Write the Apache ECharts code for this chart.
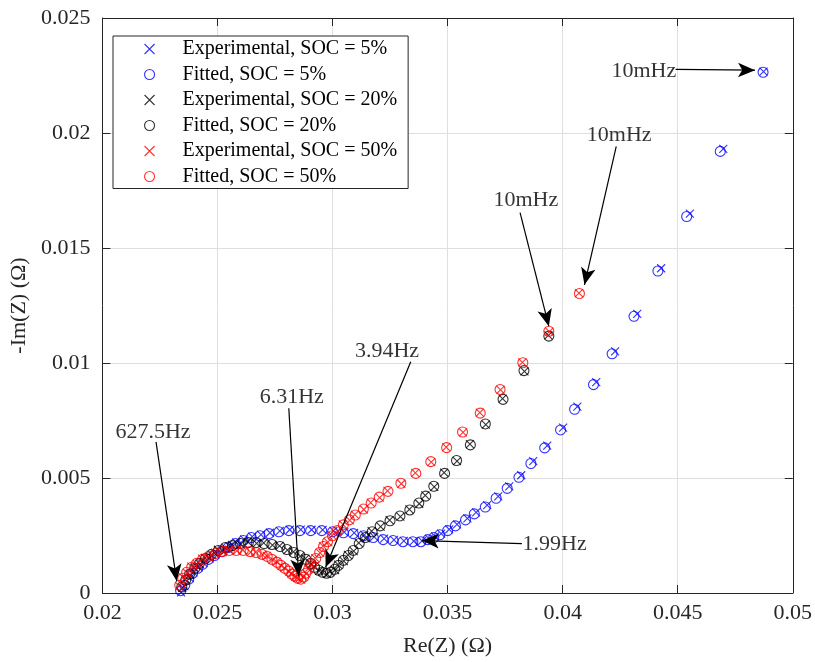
<!DOCTYPE html>
<html><head><meta charset="utf-8">
<script src="https://cdn.jsdelivr.net/npm/echarts@6/dist/echarts.min.js"></script>
<style>html,body{margin:0;padding:0;background:#fff}#chart{width:815px;height:662px}</style>
</head><body><div id="chart"></div>
<script>
// ---- axes ----
const xMin = 0.02, xMax = 0.05, xStep = 0.005;
const yMin = 0, yMax = 0.025, yStep = 0.005;
const xAxisTitle = 'Re(Z) (Ω)';
const yAxisTitle = '-Im(Z) (Ω)';

// ---- SOC = 5% ----
const soc5ExpRe = [0.02342,0.02356,0.02380,0.02396,0.02418,0.02440,0.02466,0.02492,0.02522,0.02552,
  0.02582,0.02616,0.02651,0.02689,0.02728,0.02771,0.02814,0.02862,0.02909,0.02957,
  0.03004,0.03051,0.03094,0.03138,0.03181,0.03224,0.03267,0.03310,0.03353,0.03389,
  0.03419,0.03446,0.03472,0.03507,0.03541,0.03586,0.03624,0.03672,0.03720,0.03768,
  0.03820,0.03872,0.03933,0.04002,0.04064,0.04146,0.04228,0.04324,0.04428,0.04553,
  0.04698,0.04873];
const soc5ExpIm = [0.00003,0.00030,0.00065,0.00090,0.00112,0.00130,0.00151,0.00168,0.00186,0.00203,
  0.00220,0.00233,0.00245,0.00254,0.00262,0.00270,0.00275,0.00276,0.00275,0.00274,
  0.00270,0.00265,0.00261,0.00253,0.00244,0.00236,0.00231,0.00227,0.00226,0.00227,
  0.00236,0.00246,0.00258,0.00277,0.00298,0.00324,0.00351,0.00382,0.00420,0.00464,
  0.00512,0.00573,0.00641,0.00719,0.00810,0.00917,0.01051,0.01214,0.01412,0.01649,
  0.01931,0.02267];
const soc5FitRe = [0.02340,0.02358,0.02375,0.02392,0.02414,0.02435,0.02461,0.02487,0.02517,0.02547,
  0.02578,0.02612,0.02647,0.02685,0.02724,0.02767,0.02810,0.02858,0.02905,0.02953,
  0.03000,0.03047,0.03090,0.03134,0.03177,0.03220,0.03263,0.03306,0.03349,0.03384,
  0.03414,0.03440,0.03466,0.03500,0.03534,0.03578,0.03616,0.03664,0.03711,0.03759,
  0.03810,0.03862,0.03922,0.03991,0.04052,0.04134,0.04215,0.04310,0.04414,0.04539,
  0.04685,0.04871];
const soc5FitIm = [0.00010,0.00034,0.00060,0.00086,0.00107,0.00125,0.00146,0.00163,0.00180,0.00198,
  0.00215,0.00228,0.00241,0.00249,0.00258,0.00266,0.00271,0.00271,0.00271,0.00271,
  0.00266,0.00262,0.00258,0.00249,0.00241,0.00232,0.00228,0.00223,0.00223,0.00223,
  0.00232,0.00241,0.00253,0.00271,0.00292,0.00318,0.00344,0.00374,0.00412,0.00455,
  0.00503,0.00563,0.00631,0.00709,0.00799,0.00906,0.01040,0.01203,0.01400,0.01637,
  0.01920,0.02264];

// ---- SOC = 20% ----
const soc20ExpRe = [0.02347,0.02360,0.02381,0.02399,0.02424,0.02446,0.02476,0.02502,0.02536,0.02563,
  0.02601,0.02632,0.02670,0.02701,0.02739,0.02770,0.02804,0.02830,0.02860,0.02882,
  0.02907,0.02920,0.02942,0.02955,0.02976,0.02989,0.03011,0.03024,0.03049,0.03067,
  0.03092,0.03114,0.03144,0.03170,0.03209,0.03248,0.03295,0.03334,0.03377,0.03403,
  0.03442,0.03485,0.03541,0.03597,0.03666,0.03739,0.03834,0.03938];
const soc20ExpIm = [0.00022,0.00059,0.00079,0.00110,0.00126,0.00153,0.00165,0.00188,0.00195,0.00209,
  0.00212,0.00222,0.00216,0.00218,0.00208,0.00205,0.00186,0.00179,0.00160,0.00149,
  0.00126,0.00115,0.00096,0.00093,0.00083,0.00093,0.00100,0.00123,0.00139,0.00166,
  0.00182,0.00218,0.00238,0.00269,0.00289,0.00317,0.00332,0.00364,0.00388,0.00424,
  0.00461,0.00523,0.00573,0.00647,0.00732,0.00845,0.00964,0.01120];
const soc20FitRe = [0.02345,0.02362,0.02379,0.02401,0.02422,0.02448,0.02474,0.02504,0.02534,0.02565,
  0.02599,0.02634,0.02668,0.02703,0.02737,0.02772,0.02802,0.02832,0.02858,0.02884,
  0.02905,0.02922,0.02940,0.02957,0.02974,0.02991,0.03009,0.03026,0.03047,0.03069,
  0.03090,0.03116,0.03142,0.03172,0.03207,0.03250,0.03293,0.03336,0.03375,0.03405,
  0.03440,0.03487,0.03539,0.03599,0.03664,0.03741,0.03832,0.03940];
const soc20FitIm = [0.00026,0.00056,0.00082,0.00107,0.00129,0.00150,0.00168,0.00185,0.00198,0.00206,
  0.00215,0.00219,0.00219,0.00215,0.00211,0.00202,0.00189,0.00176,0.00163,0.00146,
  0.00129,0.00112,0.00099,0.00090,0.00086,0.00090,0.00103,0.00120,0.00142,0.00163,
  0.00185,0.00215,0.00241,0.00266,0.00292,0.00314,0.00335,0.00361,0.00391,0.00421,
  0.00464,0.00520,0.00576,0.00644,0.00735,0.00842,0.00967,0.01117];

// ---- SOC = 50% ----
const soc50ExpRe = [0.02334,0.02351,0.02368,0.02386,0.02411,0.02433,0.02463,0.02489,0.02524,0.02550,
  0.02584,0.02610,0.02644,0.02666,0.02696,0.02714,0.02739,0.02757,0.02778,0.02791,
  0.02812,0.02821,0.02838,0.02847,0.02864,0.02873,0.02886,0.02894,0.02911,0.02925,
  0.02946,0.02959,0.02980,0.02998,0.03023,0.03045,0.03075,0.03097,0.03136,0.03166,
  0.03205,0.03239,0.03299,0.03360,0.03429,0.03494,0.03567,0.03640,0.03730,0.03825,
  0.03942,0.04071];
const soc50ExpIm = [0.00030,0.00068,0.00087,0.00115,0.00126,0.00149,0.00156,0.00175,0.00178,0.00188,
  0.00183,0.00187,0.00178,0.00178,0.00166,0.00161,0.00144,0.00135,0.00118,0.00109,
  0.00093,0.00084,0.00071,0.00066,0.00058,0.00071,0.00084,0.00105,0.00123,0.00152,
  0.00174,0.00204,0.00221,0.00251,0.00269,0.00298,0.00316,0.00341,0.00363,0.00393,
  0.00415,0.00444,0.00475,0.00522,0.00569,0.00634,0.00698,0.00784,0.00883,0.01003,
  0.01136,0.01304];
const soc50FitRe = [0.02336,0.02349,0.02366,0.02388,0.02409,0.02435,0.02461,0.02491,0.02522,0.02552,
  0.02582,0.02612,0.02642,0.02668,0.02694,0.02716,0.02737,0.02759,0.02776,0.02793,
  0.02810,0.02823,0.02836,0.02849,0.02862,0.02875,0.02884,0.02896,0.02909,0.02927,
  0.02944,0.02961,0.02978,0.03000,0.03021,0.03047,0.03073,0.03099,0.03134,0.03168,
  0.03203,0.03241,0.03297,0.03362,0.03427,0.03496,0.03565,0.03642,0.03728,0.03827,
  0.03940,0.04073];
const soc50FitIm = [0.00034,0.00064,0.00090,0.00112,0.00129,0.00146,0.00159,0.00172,0.00180,0.00185,
  0.00185,0.00185,0.00180,0.00176,0.00168,0.00159,0.00146,0.00133,0.00120,0.00107,
  0.00095,0.00082,0.00073,0.00064,0.00060,0.00069,0.00086,0.00103,0.00125,0.00150,
  0.00176,0.00202,0.00223,0.00249,0.00271,0.00296,0.00318,0.00339,0.00365,0.00391,
  0.00417,0.00442,0.00477,0.00520,0.00571,0.00632,0.00700,0.00782,0.00885,0.01001,
  0.01138,0.01302];

// ---- legend names ----
const seriesNames = ['Experimental, SOC = 5%','Fitted, SOC = 5%','Experimental, SOC = 20%',
  'Fitted, SOC = 20%','Experimental, SOC = 50%','Fitted, SOC = 50%'];

// ---- frequency annotations (text anchor, arrow start, arrow tip) ----
const annotText  = ['627.5Hz','6.31Hz','3.94Hz','1.99Hz','10mHz','10mHz','10mHz'];
const annotTextX = [0.02220,0.02823,0.03237,0.03965,0.03840,0.04246,0.04353];
const annotTextY = [0.00700,0.00851,0.01053,0.00211,0.01706,0.01989,0.02268];
const arrowFromX = [0.02233,0.02810,0.03340,0.03823,0.03815,0.04233,0.04491];
const arrowFromY = [0.00657,0.00803,0.01005,0.00215,0.01654,0.01942,0.02277];
const arrowToX   = [0.02323,0.02853,0.02970,0.03388,0.03940,0.04095,0.04836];
const arrowToY   = [0.00052,0.00073,0.00112,0.00228,0.01160,0.01340,0.02273];

const FONT = '"Liberation Serif","Times New Roman",serif';
const AX = '#262626';
const zip = (a, b) => a.map((v, i) => [v, b[i]]);
const fmt = v => String(+v.toFixed(4));
const crossPath = 'path://M0,0L10,10M10,0L0,10';

function expSeries(name, color, re, im) {
  return { name, type: 'scatter', data: zip(re, im), symbol: crossPath, symbolSize: 8,
    itemStyle: { color: 'rgba(0,0,0,0)', borderColor: color, borderWidth: 1.1 },
    emphasis: { disabled: true } };
}
function fitSeries(name, color, re, im) {
  return { name, type: 'scatter', data: zip(re, im), symbol: 'circle', symbolSize: 10,
    itemStyle: { color: 'rgba(0,0,0,0)', borderColor: color, borderWidth: 1.1 },
    emphasis: { disabled: true } };
}

const baseAxis = {
  type: 'value',
  axisLine: { show: true, onZero: false, lineStyle: { color: AX, width: 1 } },
  axisTick: { show: true, inside: true, length: 8, lineStyle: { color: AX, width: 1 } },
  splitLine: { show: false }
};

const chart = echarts.init(document.getElementById('chart'), null, { renderer: 'canvas' });
chart.setOption({
  animation: false,
  backgroundColor: '#fff',
  grid: { left: 97, right: 22, top: 18, bottom: 62 },
  xAxis: [
    Object.assign({}, baseAxis, {
      min: xMin, max: xMax, interval: xStep, position: 'bottom',
      name: xAxisTitle, nameLocation: 'middle', nameGap: 42,
      nameTextStyle: { fontFamily: FONT, fontSize: 22, color: AX },
      axisLabel: { fontFamily: FONT, fontSize: 22, color: AX, margin: 9, formatter: fmt },
      splitLine: { show: true, lineStyle: { color: '#dfdfdf', width: 1 } }
    }),
    Object.assign({}, baseAxis, { min: xMin, max: xMax, interval: xStep, position: 'top', axisLabel: { show: false } })
  ],
  yAxis: [
    Object.assign({}, baseAxis, {
      min: yMin, max: yMax, interval: yStep, position: 'left',
      name: yAxisTitle, nameLocation: 'middle', nameGap: 56,
      nameTextStyle: { fontFamily: FONT, fontSize: 22, color: AX },
      axisLabel: { fontFamily: FONT, fontSize: 22, color: AX, margin: 12, formatter: fmt },
      splitLine: { show: true, lineStyle: { color: '#dfdfdf', width: 1 } }
    }),
    Object.assign({}, baseAxis, { min: yMin, max: yMax, interval: yStep, position: 'right', axisLabel: { show: false } })
  ],
  legend: {
    data: seriesNames,
    orient: 'vertical', left: 113, top: 36,
    padding: [3, 11, 2, 31],
    itemWidth: 56, itemHeight: 10, itemGap: 5.5,
    itemStyle: { borderWidth: 1.1 },
    backgroundColor: '#fff', borderColor: AX, borderWidth: 1, borderRadius: 0,
    textStyle: { fontFamily: FONT, fontSize: 20, color: '#000', lineHeight: 20 },
    selectedMode: false
  },
  series: [
    expSeries(seriesNames[0], '#0000ff', soc5ExpRe, soc5ExpIm),
    fitSeries(seriesNames[1], '#0000ff', soc5FitRe, soc5FitIm),
    expSeries(seriesNames[2], '#000000', soc20ExpRe, soc20ExpIm),
    fitSeries(seriesNames[3], '#000000', soc20FitRe, soc20FitIm),
    expSeries(seriesNames[4], '#ff0000', soc50ExpRe, soc50ExpIm),
    fitSeries(seriesNames[5], '#ff0000', soc50FitRe, soc50FitIm),
    {
      name: 'annotations', type: 'scatter', z: 10, silent: true,
      symbol: 'circle', symbolSize: 0,
      data: annotText.map((t, i) => ({ value: [annotTextX[i], annotTextY[i]], label: { formatter: t } })),
      label: { show: true, position: 'inside', fontFamily: FONT, fontSize: 22, color: '#000' },
      markLine: {
        silent: true, animation: false,
        symbol: ['none', 'arrow'], symbolSize: [11, 17],
        lineStyle: { color: '#000', width: 1.2, type: 'solid' },
        label: { show: false },
        emphasis: { disabled: true },
        data: arrowFromX.map((x, i) => [
          { coord: [x, arrowFromY[i]] },
          { coord: [arrowToX[i], arrowToY[i]] }
        ])
      }
    }
  ]
});
</script>
</body></html>
